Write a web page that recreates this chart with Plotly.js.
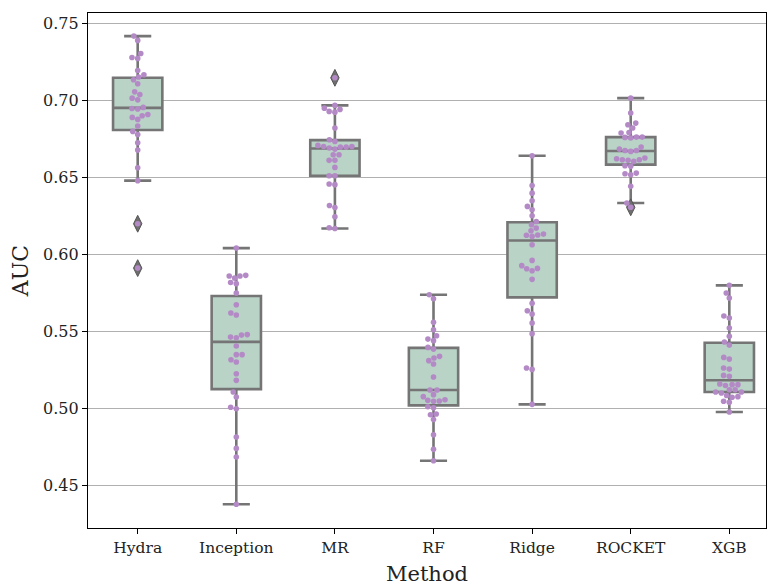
<!DOCTYPE html>
<html>
<head>
<meta charset="utf-8">
<script src="https://cdn.plot.ly/plotly-3.0.1.min.js"></script>
<style>
html,body{margin:0;padding:0;background:#fff;}
#chart{width:769px;height:588px;}
</style>
</head>
<body>
<div id="chart"></div>
<script>
// ---- data (AUC per fold) ----
const methods = ['Hydra', 'Inception', 'MR', 'RF', 'Ridge', 'ROCKET', 'XGB'];

const hydra = [0.7420, 0.7392, 0.7307, 0.7281, 0.7275, 0.7197, 0.7169, 0.7154, 0.7136, 0.7110,
  0.7058, 0.7041, 0.7017, 0.7006, 0.6957, 0.6950, 0.6946, 0.6911, 0.6903, 0.6892,
  0.6879, 0.6836, 0.6801, 0.6781, 0.6727, 0.6680, 0.6565, 0.6481, 0.6201, 0.5913];

const inception = [0.6043, 0.5866, 0.5862, 0.5862, 0.5848, 0.5820, 0.5812, 0.5751, 0.5675, 0.5621,
  0.5608, 0.5481, 0.5478, 0.5465, 0.5461, 0.5407, 0.5351, 0.5351, 0.5318, 0.5303,
  0.5227, 0.5184, 0.5108, 0.5076, 0.5009, 0.5000, 0.4816, 0.4742, 0.4686, 0.4379];

const mr = [0.7149, 0.6970, 0.6952, 0.6944, 0.6931, 0.6926, 0.6823, 0.6747, 0.6736, 0.6710,
  0.6703, 0.6703, 0.6699, 0.6699, 0.6693, 0.6686, 0.6649, 0.6649, 0.6613, 0.6613,
  0.6567, 0.6513, 0.6513, 0.6459, 0.6455, 0.6320, 0.6307, 0.6247, 0.6175, 0.6170];

const rf = [0.5740, 0.5714, 0.5561, 0.5513, 0.5474, 0.5452, 0.5442, 0.5398, 0.5387, 0.5340,
  0.5329, 0.5312, 0.5290, 0.5206, 0.5121, 0.5121, 0.5091, 0.5078, 0.5058, 0.5054,
  0.5050, 0.5048, 0.5013, 0.5006, 0.4965, 0.4961, 0.4929, 0.4831, 0.4736, 0.4662];

const ridge = [0.6643, 0.6450, 0.6400, 0.6351, 0.6314, 0.6292, 0.6253, 0.6216, 0.6195, 0.6173,
  0.6156, 0.6134, 0.6128, 0.6126, 0.6119, 0.6065, 0.5963, 0.5929, 0.5911, 0.5909,
  0.5896, 0.5840, 0.5684, 0.5636, 0.5615, 0.5556, 0.5487, 0.5264, 0.5255, 0.5028];

const rocket = [0.7017, 0.6920, 0.6855, 0.6844, 0.6823, 0.6794, 0.6790, 0.6764, 0.6764, 0.6762,
  0.6758, 0.6699, 0.6686, 0.6677, 0.6677, 0.6671, 0.6628, 0.6623, 0.6617, 0.6617,
  0.6613, 0.6606, 0.6578, 0.6574, 0.6530, 0.6526, 0.6519, 0.6444, 0.6336, 0.6308];

const xgb = [0.5801, 0.5751, 0.5719, 0.5602, 0.5589, 0.5524, 0.5470, 0.5433, 0.5413, 0.5333,
  0.5322, 0.5264, 0.5257, 0.5216, 0.5210, 0.5160, 0.5156, 0.5156, 0.5151, 0.5123,
  0.5123, 0.5108, 0.5108, 0.5102, 0.5086, 0.5078, 0.5074, 0.5048, 0.5041, 0.4978];

const series = [hydra, inception, mr, rf, ridge, rocket, xgb];
const yTicks = [0.45, 0.50, 0.55, 0.60, 0.65, 0.70, 0.75];

// ---- style ----
const BOX_FILL = '#b9d3c7';
const EDGE = '#757575';
const POINT = '#b48ac6';
const FONT = 'DejaVu Serif, Liberation Serif, serif';

const W = 769, H = 588;
const margin = {l: 88, r: 3, t: 13, b: 60};
const xRange = [-0.504, 6.372];
const yRange = [0.4225, 0.757];
const pxPerX = (W - margin.l - margin.r) / (xRange[1] - xRange[0]);
const pxPerY = (H - margin.t - margin.b) / (yRange[1] - yRange[0]);

function pct(sorted, p) {
  const idx = p * (sorted.length - 1);
  const lo = Math.floor(idx), hi = Math.ceil(idx);
  return sorted[lo] + (sorted[hi] - sorted[lo]) * (idx - lo);
}
function stats(vals) {
  const s = vals.slice().sort((a, b) => a - b);
  const q1 = pct(s, 0.25), med = pct(s, 0.5), q3 = pct(s, 0.75);
  const iqr = q3 - q1;
  const lo = q1 - 1.5 * iqr, hi = q3 + 1.5 * iqr;
  const inside = s.filter(v => v >= lo && v <= hi);
  return {q1, med, q3, lf: inside[0], uf: inside[inside.length - 1],
          out: s.filter(v => v < lo || v > hi)};
}
// beeswarm offsets (in pixels), seaborn-like
function swarm(vals, d) {
  const pts = vals.map(v => ({y: v * pxPerY, v})).sort((a, b) => a.y - b.y);
  const placed = [];
  pts.forEach(p => {
    const nb = placed.filter(q => Math.abs(q.y - p.y) < d);
    const cands = [0];
    nb.forEach(q => {
      const dy = q.y - p.y;
      const dx = Math.sqrt(Math.max(d * d - dy * dy, 0));
      cands.push(q.x + dx, q.x - dx);
    });
    cands.sort((a, b) => Math.abs(a) - Math.abs(b) || a - b);
    let chosen = cands[cands.length - 1];
    for (const c of cands) {
      if (nb.every(q => (c - q.x) ** 2 + (q.y - p.y) ** 2 >= d * d - 1e-6)) { chosen = c; break; }
    }
    p.x = chosen;
    placed.push(p);
  });
  return placed;
}

const traces = [];
series.forEach((vals, i) => {
  const st = stats(vals);
  traces.push({
    type: 'box', x: [i], q1: [st.q1], median: [st.med], q3: [st.q3],
    lowerfence: [st.lf], upperfence: [st.uf],
    width: 0.5, whiskerwidth: 0.55, boxpoints: false,
    fillcolor: BOX_FILL, line: {color: EDGE, width: 2.6},
    hoverinfo: 'skip', showlegend: false
  });
  if (st.out.length) {
    traces.push({
      type: 'scatter', mode: 'markers', x: st.out.map(() => i), y: st.out,
      marker: {symbol: 'diamond-tall', size: 12, color: '#6f6f6f', line: {color: '#555', width: 1}},
      hoverinfo: 'skip', showlegend: false
    });
  }
});
series.forEach((vals, i) => {
  const sw = swarm(vals, 5.8);
  traces.push({
    type: 'scatter', mode: 'markers',
    x: sw.map(p => i + p.x / pxPerX), y: sw.map(p => p.v),
    marker: {size: 5.6, color: POINT, line: {width: 0}},
    hoverinfo: 'skip', showlegend: false
  });
});

const layout = {
  width: W, height: H, margin: margin,
  paper_bgcolor: '#fff', plot_bgcolor: '#fff',
  font: {family: FONT, color: '#222', size: 15},
  showlegend: false,
  xaxis: {
    range: xRange, tickvals: methods.map((_, i) => i), ticktext: methods,
    showgrid: false, zeroline: false,
    showline: true, mirror: true, linecolor: '#000', linewidth: 1.2,
    ticks: 'outside', ticklen: 5, tickwidth: 1.2, tickcolor: '#000',
    tickfont: {family: FONT, size: 15.5, color: '#222'},
    title: {text: 'Method', font: {family: FONT, size: 21, color: '#222'}, standoff: 10}
  },
  yaxis: {
    range: yRange, tickvals: yTicks, ticktext: yTicks.map(v => v.toFixed(2)),
    showgrid: true, gridcolor: '#b0b0b0', gridwidth: 1, zeroline: false,
    showline: true, mirror: true, linecolor: '#000', linewidth: 1.2,
    ticks: 'outside', ticklen: 5, tickwidth: 1.2, tickcolor: '#000',
    tickfont: {family: FONT, size: 16, color: '#222'},
    title: {text: 'AUC', font: {family: FONT, size: 22, color: '#222'}, standoff: 8}
  }
};

Plotly.newPlot('chart', traces, layout, {staticPlot: true, displayModeBar: false});
</script>
</body>
</html>
